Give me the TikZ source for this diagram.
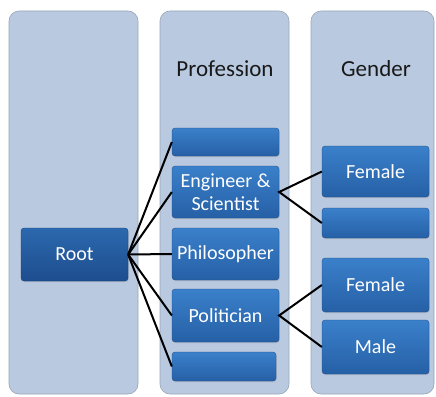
\documentclass[tikz,border=0pt]{standalone}
\usepackage{fontspec}
\setmainfont{Carlito}
\usetikzlibrary{shadows}
\definecolor{panelfill}{HTML}{B9C9E0}
\definecolor{panelline}{HTML}{9AA6B6}
\definecolor{boxtop}{HTML}{3A80CA}
\definecolor{boxbot}{HTML}{2660A6}
\definecolor{roottop}{HTML}{2C68AE}
\definecolor{rootbot}{HTML}{1D4E8E}
\tikzset{
  panel/.style={draw=panelline, line width=0.6pt, fill=panelfill, rounded corners=10pt},
  title/.style={font=\fontsize{23}{26}\selectfont, text=black!90},
  box/.style={rounded corners=3pt, top color=boxtop, bottom color=boxbot,
    draw=boxbot!80!black, line width=0.3pt,
    drop shadow={opacity=0.25, shadow xshift=0.8pt, shadow yshift=-1pt},
    minimum width=107pt, inner sep=0pt, text=white, align=center,
    font=\fontsize{20}{23}\selectfont},
  rootbox/.style={box, top color=roottop, bottom color=rootbot, draw=rootbot!80!black},
  link/.style={line width=2pt, black}
}
\begin{document}
\begin{tikzpicture}[x=1pt,y=-1pt]
\useasboundingbox (0,0) rectangle (436,396);
% panels
\path[panel] (9,11) rectangle (138,394);
\path[panel] (160,11) rectangle (289,394);
\path[panel] (311,11) rectangle (434,394);
\node[title] (tprof) at (225,69) {Profession};
\node[title] (tgend) at (376,69) {Gender};
% nodes
\node[rootbox, minimum height=53pt] (root) at (74.5,254.5) {Root};
\node[box, minimum height=28pt] (p1) at (225.5,142) {};
\node[box, minimum height=52pt] (p2) at (225.5,192) {Engineer \&\\Scientist};
\node[box, minimum height=52pt] (p3) at (225.5,254) {Philosopher};
\node[box, minimum height=53pt] (p4) at (225.5,315.5) {Politician};
\node[box, minimum height=29pt, minimum width=104pt] (p5) at (224,366.5) {};
\node[box, minimum height=51pt] (g1) at (375.5,171.5) {Female};
\node[box, minimum height=30pt] (g2) at (375.5,223) {};
\node[box, minimum height=54pt] (g3) at (375.5,285) {Female};
\node[box, minimum height=54pt] (g4) at (375.5,347) {Male};
% links
\foreach \p in {p1,p2,p3,p4,p5} \draw[link] (root.east) -- (\p.west);
\draw[link] (g1.west) -- (p2.east) -- (g2.west);
\draw[link] (g3.west) -- (p4.east) -- (g4.west);
\end{tikzpicture}
\end{document}
